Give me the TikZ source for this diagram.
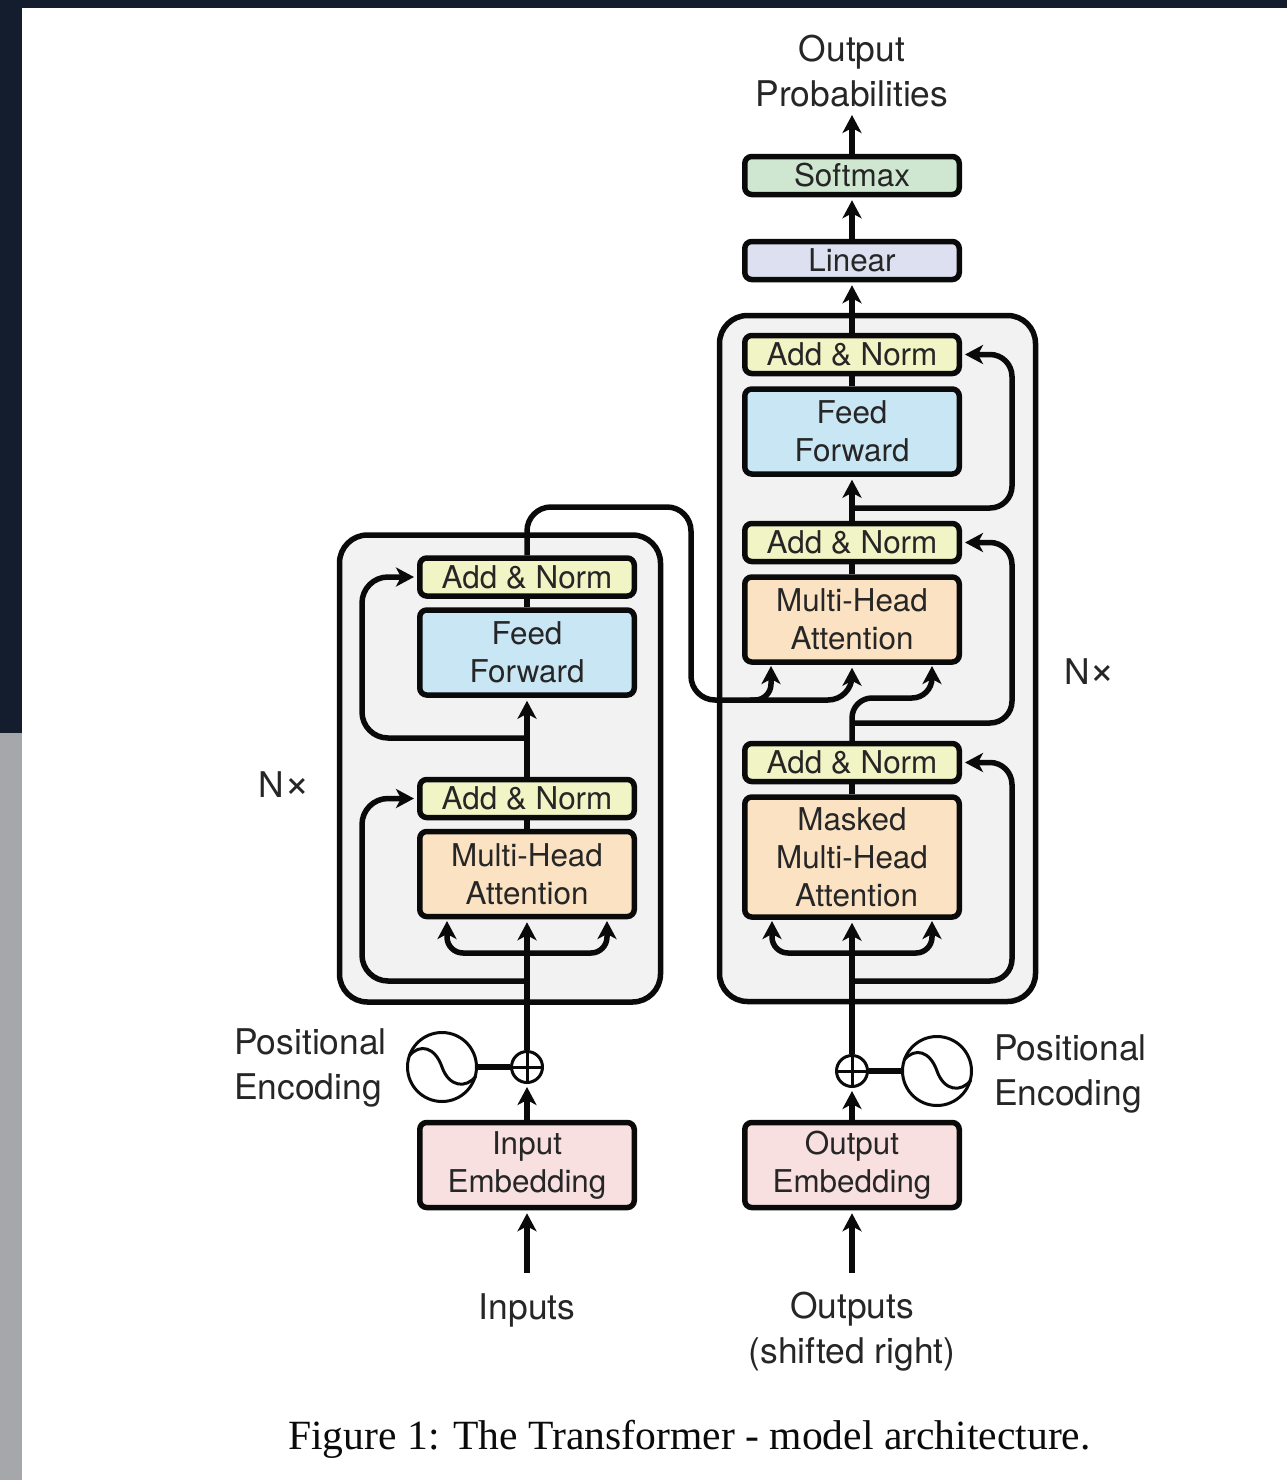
\documentclass[tikz,border=0pt]{standalone}
\usepackage{fontspec}
\setmainfont{TeX Gyre Heros}
\newfontfamily\capfont{Liberation Serif}
\usetikzlibrary{arrows.meta,calc}
\definecolor{ink}{HTML}{0A0A0A}
\definecolor{txt}{HTML}{262626}
\definecolor{addc}{HTML}{F1F4C4}
\definecolor{ffc}{HTML}{C8E6F4}
\definecolor{mhac}{HTML}{FBE2C2}
\definecolor{embc}{HTML}{F8DFE0}
\definecolor{linc}{HTML}{DDE0F0}
\definecolor{softc}{HTML}{CFE6D0}
\definecolor{blockc}{HTML}{F2F2F2}
\definecolor{darkbar}{HTML}{141D2E}
\definecolor{greybar}{HTML}{A6A7AB}
\tikzset{
  boxbase/.style={draw=ink,line width=5.5pt,rounded corners=7pt,minimum width=214.5pt,inner sep=0pt,align=center,text=txt,font=\fontsize{31.4}{38}\selectfont},
  addbox/.style={boxbase,fill=addc,minimum height=38pt},
  ffbox/.style={boxbase,fill=ffc,minimum height=85pt},
  mhabox/.style={boxbase,fill=mhac,minimum height=85pt},
  maskbox/.style={boxbase,fill=mhac,minimum height=120pt},
  embbox/.style={boxbase,fill=embc,minimum height=85pt},
  linbox/.style={boxbase,fill=linc,minimum height=38pt},
  softbox/.style={boxbase,fill=softc,minimum height=38pt},
  blockbox/.style={draw=ink,line width=5.5pt,rounded corners=28pt,fill=blockc,inner sep=0pt},
  biglabel/.style={text=txt,align=center,inner sep=0pt,font=\fontsize{35.4}{45}\selectfont},
  leftlabel/.style={biglabel,align=left},
  sumnode/.style={circle,draw=ink,line width=3pt,fill=white,minimum size=31pt,inner sep=0pt},
  sinenode/.style={circle,draw=ink,line width=3pt,fill=white,minimum size=69pt,inner sep=0pt},
  thinline/.style={draw=ink,line width=3pt},
  wire/.style={draw=ink,line width=5.5pt,rounded corners=22pt},
  arrowwire/.style={wire,-{Stealth[length=18pt,width=19pt,inset=5pt]},shorten >=3pt},
  curl/.style={arrowwire,rounded corners=16pt},
}
\begin{document}
\begin{tikzpicture}[x=1pt,y=-1pt]
\useasboundingbox (0,0) rectangle (1287,1480);
\fill[darkbar] (0,0) rectangle (1287,8);
\fill[darkbar] (0,0) rectangle (22,733);
\fill[greybar] (0,733) rectangle (22,1480);

% encoder and decoder blocks
\node[blockbox,minimum width=321pt,minimum height=467pt] (encblock) at (500,768.5) {};
\node[blockbox,minimum width=316pt,minimum height=686pt] (decblock) at (877.5,658.5) {};

% encoder
\node[addbox] (addA) at (527,577) {Add \& Norm};
\node[ffbox] (ffA) at (527,652.5) {Feed\\Forward};
\node[addbox] (addB) at (527,798.5) {Add \& Norm};
\node[mhabox] (mhaA) at (527,874) {Multi-Head\\Attention};
\node[embbox] (embA) at (527,1165) {Input\\Embedding};
\node[sumnode] (sumA) at (527,1067) {};
\node[sinenode] (sineA) at (442,1067) {};

% decoder
\node[softbox] (soft) at (852,175.5) {Softmax};
\node[linbox] (lin) at (852,260.5) {Linear};
\node[addbox] (addC) at (852,354.5) {Add \& Norm};
\node[ffbox] (ffB) at (852,431.5) {Feed\\Forward};
\node[addbox] (addD) at (852,542.5) {Add \& Norm};
\node[mhabox] (mhaB) at (852,619.5) {Multi-Head\\Attention};
\node[addbox] (addE) at (852,762.5) {Add \& Norm};
\node[maskbox] (mhaC) at (852,857) {Masked\\Multi-Head\\\hspace*{9pt}Attention};
\node[embbox] (embB) at (852,1165) {Output\\Embedding};
\node[sumnode] (sumB) at (852,1071) {};
\node[sinenode] (sineB) at (937,1071) {};

% labels
\node[biglabel] (outprob) at (852,71) {Output\\Probabilities};
\node[biglabel] (inputs) at (527,1310) {Inputs};
\node[biglabel] (outputs) at (852,1332) {Outputs\\(shifted right)};
\node[leftlabel,anchor=west] (peA) at (234,1067.5) {Positional\\Encoding};
\node[leftlabel,anchor=west] (peB) at (994,1073.5) {Positional\\Encoding};
\node[biglabel] (nxA) at (284.5,785) {N{\fontsize{44}{45}\selectfont×}};
\node[biglabel] (nxB) at (1090,672) {N{\fontsize{44}{45}\selectfont×}};
\node[text=ink,inner sep=0pt,font=\capfont\fontsize{41.6}{48}\selectfont] (cap) at (689.5,1439) {Figure 1: The Transformer - model architecture.};

% free ends and bends
\coordinate (inA) at (527,1273);
\coordinate (inB) at (852,1273);
\coordinate (tapA) at (527,981);
\coordinate (tapB) at (527,738);
\coordinate (forkA) at (527,953);
\coordinate (tipAl) at (447,918);
\coordinate (tipAr) at (607,918);
\coordinate (forkC) at (852,953);
\coordinate (tipCl) at (772,918);
\coordinate (tipCr) at (932,918);
\coordinate (tapC) at (852,981);
\coordinate (tapD) at (852,723);
\coordinate (tapE) at (852,508);
\coordinate (crossT) at (691,507);
\coordinate (crossB) at (691,700);
\coordinate (crossF) at (750,700);
\coordinate (tipBl) at (771,663);
\coordinate (tipBr) at (932,663);
\coordinate (upB) at (852,698);

% encoder connectors
\draw[arrowwire] (inA) -- (embA.south);
\draw[arrowwire] (embA.north) -- (sumA.south);
\draw[arrowwire] (sumA.north) -- (mhaA.south);
\draw[curl] (forkA) -| (tipAl);
\draw[curl] (forkA) -| (tipAr);
\draw[arrowwire,rounded corners=26pt] (tapA) -| (362,798.5) -- (addB.west);
\draw[wire] (mhaA.north) -- (addB.south);
\draw[arrowwire] (addB.north) -- (ffA.south);
\draw[arrowwire,rounded corners=26pt] (tapB) -| (362,577) -- (addA.west);
\draw[wire] (ffA.north) -- (addA.south);
\draw[wire] (sineA.east) -- (sumA.west);

% encoder output to decoder
\draw[arrowwire,rounded corners=24pt] (addA.north) |- (crossT) -- (crossB) -| (mhaB.south);
\draw[curl] (crossF) -| (tipBl);

% decoder connectors
\draw[arrowwire] (inB) -- (embB.south);
\draw[arrowwire] (embB.north) -- (sumB.south);
\draw[arrowwire] (sumB.north) -- (mhaC.south);
\draw[curl] (forkC) -| (tipCl);
\draw[curl] (forkC) -| (tipCr);
\draw[arrowwire,rounded corners=22pt] (tapC) -| (1012,762.5) -- (addE.east);
\draw[wire] (mhaC.north) -- (addE.south);
\draw[arrowwire,rounded corners=20pt] (addE.north) -- (upB) -| (tipBr);
\draw[arrowwire,rounded corners=22pt] (tapD) -| (1012,542.5) -- (addD.east);
\draw[wire] (mhaB.north) -- (addD.south);
\draw[arrowwire] (addD.north) -- (ffB.south);
\draw[arrowwire,rounded corners=22pt] (tapE) -| (1012,354.5) -- (addC.east);
\draw[wire] (ffB.north) -- (addC.south);
\draw[arrowwire] (addC.north) -- (lin.south);
\draw[arrowwire] (lin.north) -- (soft.south);
\draw[arrowwire] (soft.north) -- (852,112);
\draw[wire] (sumB.east) -- (sineB.west);

% adder crosses and sine waves
\draw[thinline] (sumA.north) -- (sumA.south) (sumA.west) -- (sumA.east);
\draw[thinline] (sumB.north) -- (sumB.south) (sumB.west) -- (sumB.east);
\draw[thinline] ([shift={(-33,-11)}]sineA.center) .. controls ([shift={(-22,-24)}]sineA.center) and ([shift={(-7,-20)}]sineA.center) .. (sineA.center) .. controls ([shift={(7,20)}]sineA.center) and ([shift={(24,22)}]sineA.center) .. ([shift={(34,9)}]sineA.center);
\draw[thinline] ([shift={(-33,-11)}]sineB.center) .. controls ([shift={(-22,-24)}]sineB.center) and ([shift={(-7,-20)}]sineB.center) .. (sineB.center) .. controls ([shift={(7,20)}]sineB.center) and ([shift={(24,22)}]sineB.center) .. ([shift={(34,9)}]sineB.center);
\end{tikzpicture}
\end{document}
